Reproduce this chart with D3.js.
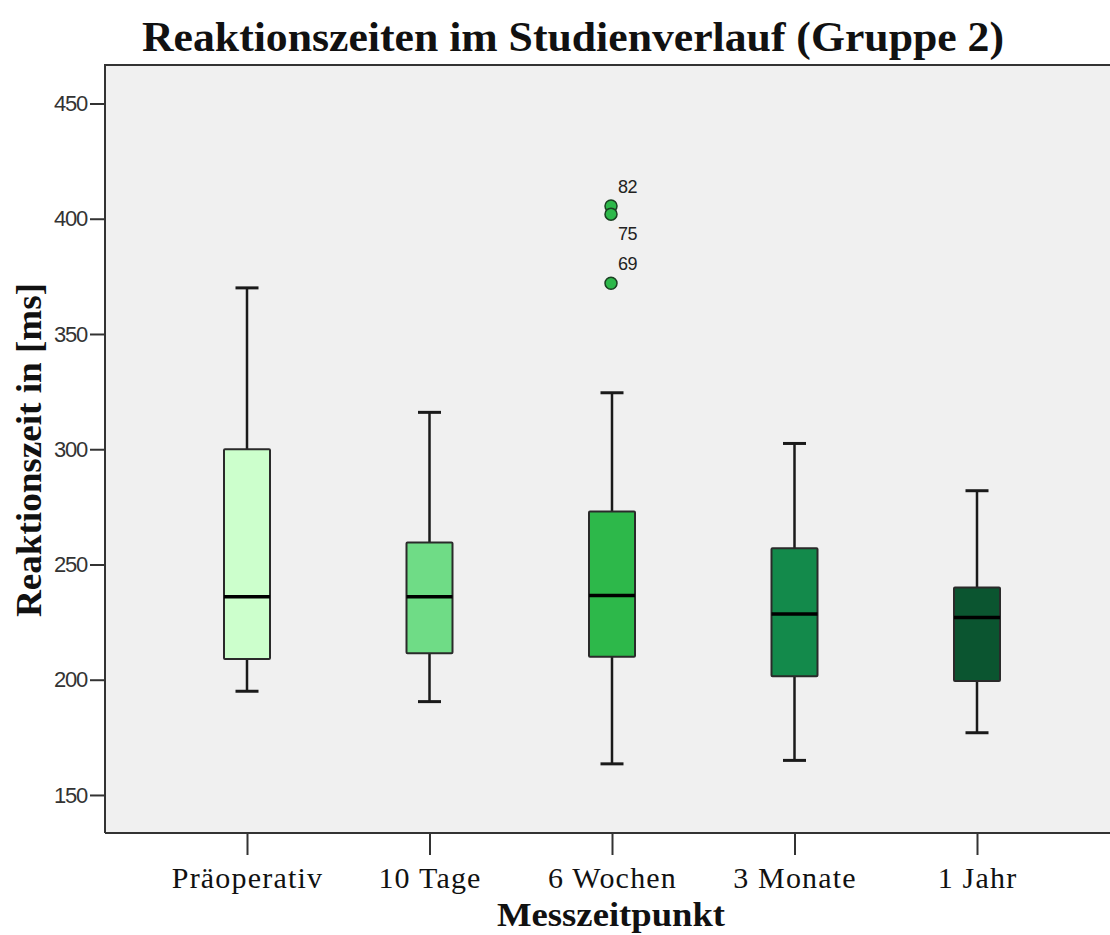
<!DOCTYPE html>
<html>
<head>
<meta charset="utf-8">
<script src="https://cdn.jsdelivr.net/npm/d3@7"></script>
<style>
  html, body { margin: 0; padding: 0; background: #ffffff; }
  svg { display: block; }
</style>
</head>
<body>
<svg id="chart" width="1110" height="935"></svg>
<script>
// Boxplot summary per measurement time (ms)
const categories   = ["Präoperativ", "10 Tage", "6 Wochen", "3 Monate", "1 Jahr"];
const whiskerLow   = [195, 190.5, 163.5, 165, 177];
const quartile1    = [209, 211.5, 210, 201.5, 199.5];
const medians      = [236, 236, 236.5, 228.5, 227];
const quartile3    = [300, 259.5, 273, 257, 240];
const whiskerHigh  = [370, 316, 324.5, 302.5, 282];
const boxColors    = ["#ccffcc", "#6fdc86", "#2db84a", "#138a4b", "#0b5530"];

// Outliers: category, value, case id
const outlierCat   = ["6 Wochen", "6 Wochen", "6 Wochen"];
const outlierVal   = [405.5, 402, 372];
const outlierId    = ["82", "75", "69"];

const yTicks = [150, 200, 250, 300, 350, 400, 450];

const svg = d3.select("#chart");
const plot = { left: 105, top: 65, right: 1120, bottom: 833 };

const y = d3.scaleLinear().domain([133.5, 466.7]).range([plot.bottom, plot.top]);
const x = d3.scalePoint().domain(categories).range([247, 977]);

const boxW = 46;
const capW = 23;

// Plot background
svg.append("rect")
  .attr("x", plot.left).attr("y", plot.top)
  .attr("width", plot.right - plot.left).attr("height", plot.bottom - plot.top)
  .attr("fill", "#f0f0f0");

// Frame lines (left, top, bottom)
svg.append("path")
  .attr("d", `M${plot.left},${plot.bottom}V${plot.top}H${plot.right}M${plot.left},${plot.bottom}H${plot.right}`)
  .attr("fill", "none").attr("stroke", "#333").attr("stroke-width", 2);

// Y axis
const yAxis = d3.axisLeft(y).tickValues(yTicks).tickSize(15).tickPadding(3).tickFormat(d3.format("d"));
const gy = svg.append("g").attr("transform", `translate(${plot.left},0)`).call(yAxis);
gy.select(".domain").remove();
gy.selectAll(".tick line").attr("stroke", "#333").attr("stroke-width", 2);
gy.selectAll(".tick text")
  .attr("fill", "#333")
  .style("font-family", "'Liberation Sans', Arial, sans-serif")
  .style("font-size", "22px")
  .attr("letter-spacing", "-1.2");

// X axis
const xAxis = d3.axisBottom(x).tickSize(22).tickPadding(12);
const gx = svg.append("g").attr("transform", `translate(0,${plot.bottom})`).call(xAxis);
gx.select(".domain").remove();
gx.selectAll(".tick line").attr("stroke", "#333").attr("stroke-width", 2);
gx.selectAll(".tick text")
  .attr("fill", "#111")
  .style("font-family", "'Liberation Serif', 'Times New Roman', serif")
  .style("font-size", "30px")
  .attr("letter-spacing", "1.2");

// Boxes
const rows = categories.map((c, i) => ({
  cat: c, lo: whiskerLow[i], q1: quartile1[i], med: medians[i],
  q3: quartile3[i], hi: whiskerHigh[i], color: boxColors[i]
}));

const g = svg.append("g");
const item = g.selectAll("g.box").data(rows).join("g").attr("class", "box");

// whisker stems
item.append("line")
  .attr("x1", d => x(d.cat)).attr("x2", d => x(d.cat))
  .attr("y1", d => y(d.hi)).attr("y2", d => y(d.q3))
  .attr("stroke", "#1a1a1a").attr("stroke-width", 2.5);
item.append("line")
  .attr("x1", d => x(d.cat)).attr("x2", d => x(d.cat))
  .attr("y1", d => y(d.q1)).attr("y2", d => y(d.lo))
  .attr("stroke", "#1a1a1a").attr("stroke-width", 2.5);
// caps
item.append("line")
  .attr("x1", d => x(d.cat) - capW / 2).attr("x2", d => x(d.cat) + capW / 2)
  .attr("y1", d => y(d.hi)).attr("y2", d => y(d.hi))
  .attr("stroke", "#1a1a1a").attr("stroke-width", 3);
item.append("line")
  .attr("x1", d => x(d.cat) - capW / 2).attr("x2", d => x(d.cat) + capW / 2)
  .attr("y1", d => y(d.lo)).attr("y2", d => y(d.lo))
  .attr("stroke", "#1a1a1a").attr("stroke-width", 3);
// box
item.append("rect")
  .attr("x", d => x(d.cat) - boxW / 2)
  .attr("y", d => y(d.q3))
  .attr("width", boxW)
  .attr("height", d => y(d.q1) - y(d.q3))
  .attr("fill", d => d.color)
  .attr("stroke", "#2a2a2a").attr("stroke-width", 2).attr("rx", 1);
// median
item.append("line")
  .attr("x1", d => x(d.cat) - boxW / 2).attr("x2", d => x(d.cat) + boxW / 2)
  .attr("y1", d => y(d.med)).attr("y2", d => y(d.med))
  .attr("stroke", "#000").attr("stroke-width", 3.5);

// Outliers
const outliers = outlierCat.map((c, i) => ({ cat: c, v: outlierVal[i], id: outlierId[i] }));
const catColor = c => boxColors[categories.indexOf(c)];
g.selectAll("circle.out").data(outliers).join("circle")
  .attr("class", "out")
  .attr("cx", d => x(d.cat) - 1)
  .attr("cy", d => y(d.v))
  .attr("r", 6)
  .attr("fill", d => catColor(d.cat))
  .attr("stroke", "#1b3f22").attr("stroke-width", 1.5);

// Case labels: first above its point, second below, third above
const labelDy = [-13, 26, -13];
g.selectAll("text.oid").data(outliers).join("text")
  .attr("class", "oid")
  .attr("x", d => x(d.cat) + 6)
  .attr("y", (d, i) => y(d.v) + labelDy[i])
  .attr("fill", "#222")
  .style("font-family", "'Liberation Sans', Arial, sans-serif")
  .style("font-size", "18px")
  .attr("letter-spacing", "-0.5")
  .text(d => d.id);

// Title
svg.append("text")
  .attr("x", 573).attr("y", 51)
  .attr("text-anchor", "middle")
  .attr("textLength", 862).attr("lengthAdjust", "spacingAndGlyphs")
  .style("font-family", "'Liberation Serif', 'Times New Roman', serif")
  .style("font-weight", "bold")
  .style("font-size", "43px")
  .attr("fill", "#111")
  .text("Reaktionszeiten im Studienverlauf (Gruppe 2)");

// Y axis title
svg.append("text")
  .attr("transform", "translate(41,450) rotate(-90)")
  .attr("text-anchor", "middle")
  .attr("textLength", 334).attr("lengthAdjust", "spacingAndGlyphs")
  .style("font-family", "'Liberation Serif', 'Times New Roman', serif")
  .style("font-weight", "bold")
  .style("font-size", "36px")
  .attr("fill", "#111")
  .text("Reaktionszeit in [ms]");

// X axis title
svg.append("text")
  .attr("x", 611).attr("y", 926)
  .attr("text-anchor", "middle")
  .attr("textLength", 228).attr("lengthAdjust", "spacingAndGlyphs")
  .style("font-family", "'Liberation Serif', 'Times New Roman', serif")
  .style("font-weight", "bold")
  .style("font-size", "34px")
  .attr("fill", "#111")
  .text("Messzeitpunkt");
</script>
</body>
</html>
